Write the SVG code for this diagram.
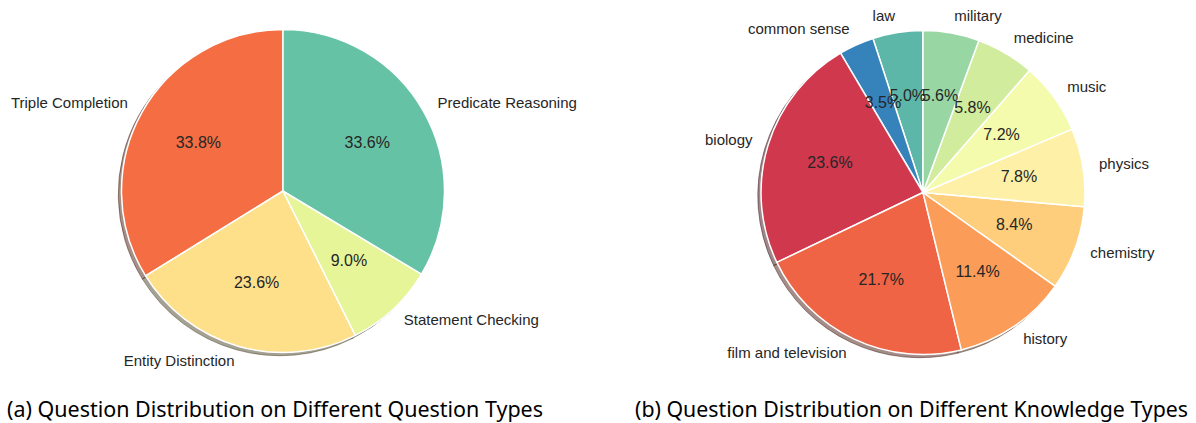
<svg xmlns="http://www.w3.org/2000/svg" width="1196" height="423" viewBox="0 0 1196 423">
<style>
.w{stroke:#ffffff;stroke-width:1.5;stroke-linejoin:round}
.sh{fill-opacity:0.5;stroke-opacity:0.5;stroke-width:1}
.lbl{font-family:"Liberation Sans",Arial,sans-serif;font-size:15px;fill:#262626}
.pct{font-family:"Liberation Sans",Arial,sans-serif;font-size:16px;fill:#262626;text-anchor:middle}
.end{text-anchor:end}
.cap{font-family:"Noto Sans","Open Sans",sans-serif;font-size:21px;fill:#000000}
</style>
<rect width="1196" height="423" fill="#ffffff"/>

<!-- Pie (a) shadows -->
<g id="shadow-a" transform="translate(-3.2,3.2)">
<path class="sh" fill="#492114" stroke="#492114" d="M283,191 L283,29.5 A161.5,161.5 0 0 0 145.6,275.9 Z"/>
<path class="sh" fill="#4c432a" stroke="#4c432a" d="M283,191 L145.6,275.9 A161.5,161.5 0 0 0 355.4,335.4 Z"/>
<path class="sh" fill="#454a2e" stroke="#454a2e" d="M283,191 L355.4,335.4 A161.5,161.5 0 0 0 421.5,274.1 Z"/>
<path class="sh" fill="#1f3a32" stroke="#1f3a32" d="M283,191 L421.5,274.1 A161.5,161.5 0 0 0 283,29.5 Z"/>
</g>

<g id="triple-completion">
<path class="w" fill="#f46d43" d="M283,191 L283,29.5 A161.5,161.5 0 0 0 145.6,275.9 Z"/>
<text class="lbl end" x="127.9" y="108.4">Triple Completion</text>
<text class="pct" x="198.4" y="148">33.8%</text>
</g>
<g id="entity-distinction">
<path class="w" fill="#fee08b" d="M283,191 L145.6,275.9 A161.5,161.5 0 0 0 355.4,335.4 Z"/>
<text class="lbl end" x="234.5" y="365.9">Entity Distinction</text>
<text class="pct" x="256.6" y="288.4">23.6%</text>
</g>
<g id="statement-checking">
<path class="w" fill="#e6f598" d="M283,191 L355.4,335.4 A161.5,161.5 0 0 0 421.5,274.1 Z"/>
<text class="lbl" x="403.8" y="325.3">Statement Checking</text>
<text class="pct" x="348.9" y="266.3">9.0%</text>
</g>
<g id="predicate-reasoning">
<path class="w" fill="#66c2a5" d="M283,191 L421.5,274.1 A161.5,161.5 0 0 0 283,29.5 Z"/>
<text class="lbl" x="437.6" y="107.5">Predicate Reasoning</text>
<text class="pct" x="367.3" y="147.5">33.6%</text>
</g>

<!-- Pie (b) shadows -->
<g id="shadow-b" transform="translate(-3.2,3.2)">
<path class="sh" fill="#1c3733" stroke="#1c3733" d="M923,192.5 L923,30.5 A162,162 0 0 0 872.94,38.43 Z"/>
<path class="sh" fill="#102738" stroke="#102738" d="M923,192.5 L872.94,38.43 A162,162 0 0 0 840.54,53.06 Z"/>
<path class="sh" fill="#3e1117" stroke="#3e1117" d="M923,192.5 L840.54,53.06 A162,162 0 0 0 776.85,262.39 Z"/>
<path class="sh" fill="#471e15" stroke="#471e15" d="M923,192.5 L776.85,262.39 A162,162 0 0 0 961.31,349.9 Z"/>
<path class="sh" fill="#4b2f1b" stroke="#4b2f1b" d="M923,192.5 L961.31,349.9 A162,162 0 0 0 1055.24,286.07 Z"/>
<path class="sh" fill="#4c3e25" stroke="#4c3e25" d="M923,192.5 L1055.24,286.07 A162,162 0 0 0 1084.37,206.73 Z"/>
<path class="sh" fill="#4c4832" stroke="#4c4832" d="M923,192.5 L1084.37,206.73 A162,162 0 0 0 1072.08,129.1 Z"/>
<path class="sh" fill="#494b34" stroke="#494b34" d="M923,192.5 L1072.08,129.1 A162,162 0 0 0 1029.46,70.39 Z"/>
<path class="sh" fill="#3f472f" stroke="#3f472f" d="M923,192.5 L1029.46,70.39 A162,162 0 0 0 978.83,40.43 Z"/>
<path class="sh" fill="#2e4031" stroke="#2e4031" d="M923,192.5 L978.83,40.43 A162,162 0 0 0 923,30.5 Z"/>
</g>

<g id="law">
<path class="w" fill="#5cb7a9" d="M923,192.5 L923,30.5 A162,162 0 0 0 872.94,38.43 Z"/>
</g>
<g id="common-sense">
<path class="w" fill="#3683bb" d="M923,192.5 L872.94,38.43 A162,162 0 0 0 840.54,53.06 Z"/>
</g>
<g id="biology">
<path class="w" fill="#d0384e" d="M923,192.5 L840.54,53.06 A162,162 0 0 0 776.85,262.39 Z"/>
</g>
<g id="film-and-television">
<path class="w" fill="#ee6445" d="M923,192.5 L776.85,262.39 A162,162 0 0 0 961.31,349.9 Z"/>
</g>
<g id="history">
<path class="w" fill="#fb9c59" d="M923,192.5 L961.31,349.9 A162,162 0 0 0 1055.24,286.07 Z"/>
</g>
<g id="chemistry">
<path class="w" fill="#fece7c" d="M923,192.5 L1055.24,286.07 A162,162 0 0 0 1084.37,206.73 Z"/>
</g>
<g id="physics">
<path class="w" fill="#fef1a7" d="M923,192.5 L1084.37,206.73 A162,162 0 0 0 1072.08,129.1 Z"/>
</g>
<g id="music">
<path class="w" fill="#f4fbad" d="M923,192.5 L1072.08,129.1 A162,162 0 0 0 1029.46,70.39 Z"/>
</g>
<g id="medicine">
<path class="w" fill="#d1ec9c" d="M923,192.5 L1029.46,70.39 A162,162 0 0 0 978.83,40.43 Z"/>
</g>
<g id="military">
<path class="w" fill="#98d6a4" d="M923,192.5 L978.83,40.43 A162,162 0 0 0 923,30.5 Z"/>
</g>

<g id="labels-b">
<text class="lbl end" x="895.1" y="20.5">law</text>
<text class="lbl end" x="849.7" y="34.1">common sense</text>
<text class="lbl end" x="752.5" y="144.6">biology</text>
<text class="lbl end" x="846.6" y="357.5">film and television</text>
<text class="lbl" x="1023.2" y="343.9">history</text>
<text class="lbl" x="1090.3" y="257.9">chemistry</text>
<text class="lbl" x="1099" y="168.6">physics</text>
<text class="lbl" x="1067.2" y="91.8">music</text>
<text class="lbl" x="1013.7" y="43.1">medicine</text>
<text class="lbl" x="954.2" y="21.1">military</text>
<text class="pct" x="907.8" y="100.7">5.0%</text>
<text class="pct" x="883" y="108.1">3.5%</text>
<text class="pct" x="830" y="168.4">23.6%</text>
<text class="pct" x="881.3" y="284.5">21.7%</text>
<text class="pct" x="977.6" y="277.1">11.4%</text>
<text class="pct" x="1014.2" y="230.2">8.4%</text>
<text class="pct" x="1019" y="181.5">7.8%</text>
<text class="pct" x="1001.6" y="139.6">7.2%</text>
<text class="pct" x="972.5" y="113">5.8%</text>
<text class="pct" x="940" y="101">5.6%</text>
</g>

<g id="captions">
<text class="cap" x="7" y="417" textLength="536" lengthAdjust="spacingAndGlyphs">(a) Question Distribution on Different Question Types</text>
<text class="cap" x="635" y="417" textLength="553" lengthAdjust="spacingAndGlyphs">(b) Question Distribution on Different Knowledge Types</text>
</g>
</svg>
